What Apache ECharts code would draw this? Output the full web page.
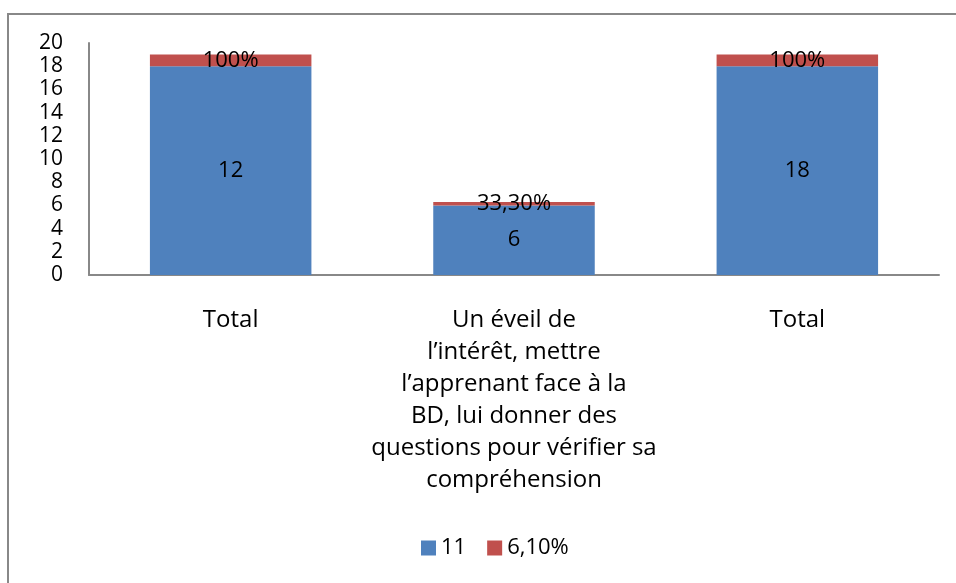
<!DOCTYPE html>
<html>
<head>
<meta charset="utf-8">
<script src="https://cdn.jsdelivr.net/npm/echarts@6/dist/echarts.min.js"></script>
<style>
  html, body { margin: 0; padding: 0; background: #fff; }
  #chart { width: 956px; height: 583px; }
</style>
</head>
<body>
<div id="chart"></div>
<script>
var categories = ['Total', 'Un éveil de\nl\u2019intérêt, mettre\nl\u2019apprenant face à la\nBD, lui donner des\nquestions pour vérifier sa\ncompréhension', 'Total'];
var blue_vals = [18, 6, 18];//serie "11"
var blue_labels = ['12', '6', '18'];
var red_vals = [1, 0.3, 1];//serie "6,10%"
var red_labels = ['100%', '33,30%', '100%'];
var y_ticks = [0, 2, 4, 6, 8, 10, 12, 14, 16, 18, 20];

var font = '"Open Sans", Lato, sans-serif';
var chart = echarts.init(document.getElementById('chart'));

var option = {
  animation: false,
  textStyle: { fontFamily: font },
  graphic: [{
    type: 'rect',
    shape: { x: 8, y: 14, width: 980, height: 620 },
    style: { fill: 'none', stroke: '#888', lineWidth: 2 }
  }],
  grid: { left: 89, right: 17, top: 43, bottom: 308 },
  legend: {
    bottom: 19,
    left: 416,
    itemWidth: 15,
    itemHeight: 15,
    itemGap: 21,
    icon: 'rect',
    textStyle: { fontSize: 22, color: '#000', fontFamily: font },
    data: ['11', '6,10%']
  },
  xAxis: {
    type: 'category',
    data: categories,
    axisLine: { lineStyle: { color: '#888', width: 2 } },
    axisTick: { show: false },
    axisLabel: {
      interval: 0,
      margin: 29,
      fontSize: 24,
      lineHeight: 32,
      color: '#000',
      fontFamily: font
    }
  },
  yAxis: {
    type: 'value',
    min: y_ticks[0],
    max: y_ticks[y_ticks.length - 1],
    interval: 2,
    splitLine: { show: false },
    axisLine: { show: true, lineStyle: { color: '#888', width: 2 } },
    axisTick: { show: false },
    axisLabel: { margin: 26, fontSize: 21, lineHeight: 12, color: '#000', fontFamily: font }
  },
  series: [
    {
      name: '11',
      type: 'bar',
      stack: 'total',
      barWidth: '57%',
      itemStyle: { color: '#4F81BD' },
      label: {
        show: true,
        position: 'inside',
        fontSize: 22,
        color: '#000',
        fontFamily: font,
        formatter: function (p) { return blue_labels[p.dataIndex]; }
      },
      data: blue_vals
    },
    {
      name: '6,10%',
      type: 'bar',
      stack: 'total',
      barWidth: '57%',
      itemStyle: { color: '#C0504D' },
      label: {
        show: true,
        position: 'inside',
        fontSize: 22,
        color: '#000',
        fontFamily: font,
        formatter: function (p) { return red_labels[p.dataIndex]; }
      },
      data: red_vals
    }
  ]
};
option && chart.setOption(option);
</script>
</body>
</html>
